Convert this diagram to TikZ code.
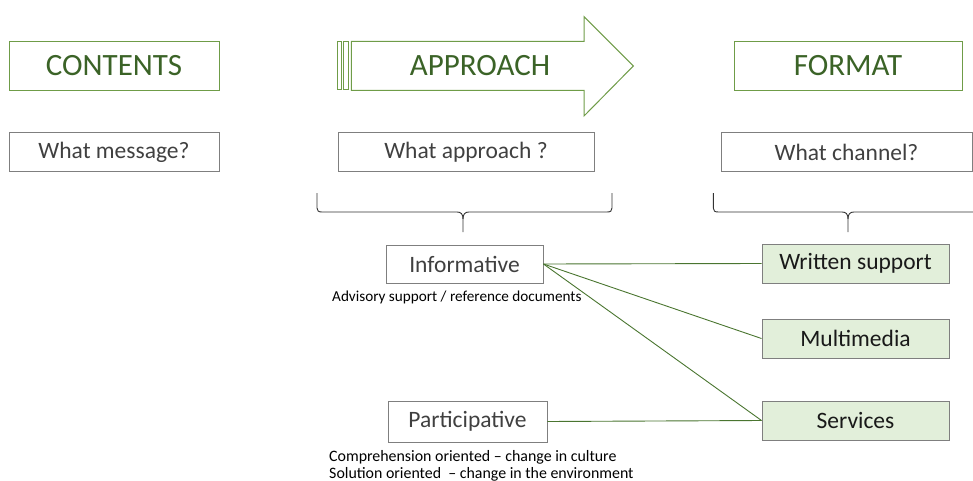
\documentclass[tikz,border=0pt]{standalone}
\usepackage{fontspec}
\setmainfont{Carlito}
\definecolor{framegreen}{HTML}{6F9C48}
\definecolor{titlegreen}{HTML}{3B6327}
\definecolor{linkgreen}{HTML}{4A7530}
\definecolor{boxgrey}{HTML}{7F7F7F}
\definecolor{textgrey}{HTML}{404040}
\definecolor{palegreen}{HTML}{E2EFDA}
\newcommand{\fs}[1]{\fontsize{#1}{#1}\selectfont}
\begin{document}
\begin{tikzpicture}[x=1pt,y=-1pt,
  titlebox/.style={draw=framegreen,line width=1pt,text=titlegreen,font=\fs{31},
    inner sep=0pt,minimum height=49pt},
  question/.style={draw=boxgrey,line width=1pt,text=textgrey,font=\fs{23.5},
    inner sep=0pt,minimum height=38pt},
  choice/.style={draw=boxgrey,line width=0.9pt,text=textgrey,font=\fs{23.5},
    inner sep=0pt},
  channel/.style={draw=boxgrey,line width=1pt,fill=palegreen,text=black!90,
    font=\fs{23.5},inner sep=0pt,minimum width=187pt,minimum height=39pt},
  note/.style={text=black,inner sep=0pt,align=left},
  link/.style={draw=linkgreen,line width=0.9pt},
  bracket/.style={draw=black!80,line width=0.9pt}]
\useasboundingbox (0,0) rectangle (973,481);

% column headers
\node[titlebox,minimum width=210pt] (contents) at (114,66) {CONTENTS};
\node[titlebox,minimum width=228pt] (format) at (848,66) {FORMAT};

% striped arrow behind the APPROACH label
\draw[framegreen,line width=1pt] (337.3,41.5) rectangle (341.3,90);
\draw[framegreen,line width=1pt] (343.8,41.5) rectangle (348.3,90);
\draw[framegreen,line width=1pt,line join=miter]
  (351.3,41.5) -- (584,41.5) -- (584,16.7) -- (633.3,66) -- (584,116)
  -- (584,90.5) -- (351.3,90.5) -- cycle;
\node[text=titlegreen,font=\fs{31},inner sep=0pt] (approach) at (480,66) {APPROACH};

% questions
\node[question,minimum width=210pt] (message) at (114,152) {What message?};
\node[question,minimum width=256pt] (approachq) at (466,152) {What approach ?};
\node[question,minimum width=251pt] (channelq) at (846.5,152) {What channel?};

% braces
\draw[bracket] (317,193) -- (317,208) .. controls (317,211) and (318.5,212) .. (322,212)
  -- (457,212) .. controls (461,212) and (463,214) .. (463,219) -- (463,232);
\draw[bracket] (612,193) -- (612,208) .. controls (612,211) and (610.5,212) .. (607,212)
  -- (469,212) .. controls (465,212) and (463,214) .. (463,219);
\draw[bracket] (713.3,193) -- (713.3,208) .. controls (713.3,211) and (714.8,212) .. (718.3,212)
  -- (842,212) .. controls (846,212) and (848,214) .. (848,219) -- (848,232);
\draw[bracket] (982,193) -- (982,208) .. controls (982,211) and (980.5,212) .. (977,212)
  -- (854,212) .. controls (850,212) and (848,214) .. (848,219);

% approaches
\node[choice,minimum width=157pt,minimum height=38pt] (informative) at (464.5,264) {Informative};
\node[choice,minimum width=159pt,minimum height=41pt] (participative) at (467.5,421.5) {Participative};
\node[note,font=\fs{15.2},anchor=west] (advisory) at (332,297) {Advisory support / reference documents};
\node[note,font=\fs{15.9},anchor=north west] (aims) at (329,450) {Comprehension oriented -- change in culture\\[1pt]
  Solution oriented \ -- change in the environment};

% channels
\node[channel] (written) at (855.5,263.5) {Written support};
\node[channel] (multimedia) at (855.5,338.5) {Multimedia};
\node[channel] (services) at (855.5,420.5) {Services};

% links between approaches and channels
\draw[link] (informative.east) -- (written.west);
\draw[link] (informative.east) -- (multimedia.west);
\draw[link] (informative.east) -- (services.west);
\draw[link] (participative.east) -- (services.west);
\end{tikzpicture}
\end{document}
